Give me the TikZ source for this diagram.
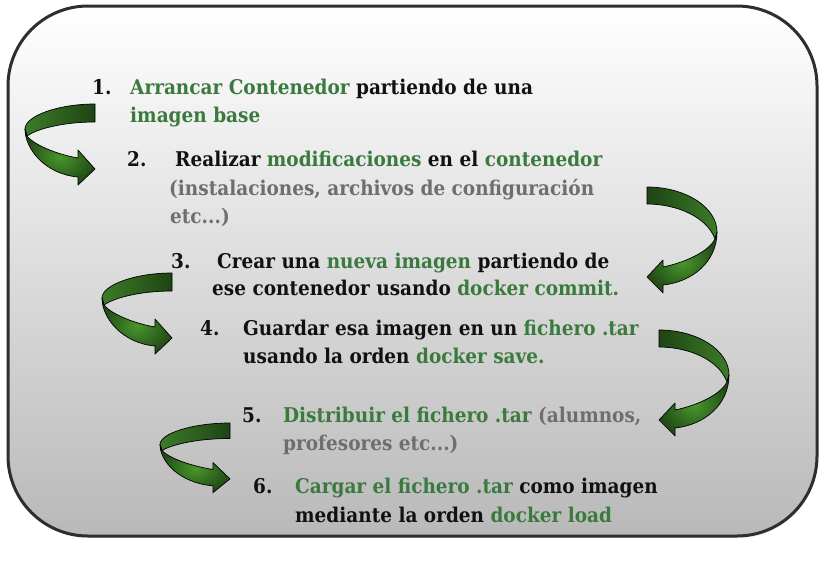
\documentclass[tikz,border=0pt]{standalone}
\usepackage{fontspec}
\setmainfont{DejaVu Serif}[FakeStretch=0.91]
\definecolor{tgreen}{HTML}{3A7A3E}
\definecolor{tgray}{HTML}{6E6E6E}
\definecolor{tblack}{HTML}{111111}
\definecolor{gdark}{HTML}{1E4414}
\definecolor{gmid}{HTML}{3C7C28}
\definecolor{glight}{HTML}{48962B}
\definecolor{boxline}{HTML}{2E2E2E}
\newcommand\grn[1]{\textcolor{tgreen}{#1}}
\newcommand\gry[1]{\textcolor{tgray}{#1}}
\tikzset{
  txt/.style={font=\bfseries\fontsize{20.3}{24}\selectfont, inner sep=0pt, text=tblack, anchor=base west},
  backface/.style={draw=black, line width=0.7pt, line join=round},
  frontface/.style={draw=black, line width=0.7pt, line join=round, inner color=glight, outer color=gdark!85!gmid},
}
\newcommand\leftcurl{%
  \path[backface, left color=gmid, right color=gdark]
    (0,0) .. controls (-37,0) and (-70,12) .. (-70,25) -- (-68,32)
    .. controls (-60,26) and (-35,18) .. (0,18) -- cycle;
  \path[frontface]
    (-70,25) .. controls (-70,45) and (-50,70) .. (-17,73) -- (-17,81) -- (0,65)
    -- (-17,46) -- (-17,54) .. controls (-40,50) and (-62,40) .. (-68,32) -- cycle;
}
\newcommand\rightcurl{%
  \path[backface, left color=gdark, right color=gmid]
    (0,0) .. controls (38,0) and (70,20) .. (70,45) -- (68,52)
    .. controls (60,30) and (30,17) .. (0,17) -- cycle;
  \path[frontface]
    (70,45) .. controls (70,75) and (45,95) .. (16,98) -- (16,106) -- (0,90)
    -- (16,73) -- (16,80) .. controls (40,75) and (62,64) .. (68,52) -- cycle;
}
\begin{document}
\begin{tikzpicture}[x=1pt, y=-1pt]
\useasboundingbox (0,0) rectangle (837,560);
% frame
\path[fill=black, opacity=0.08, rounded corners=80pt] (9,8) rectangle (818,538);
\path[draw=boxline, line width=3pt, rounded corners=80pt, top color=white, bottom color=gray!55]
  (8,6) rectangle (817,536);
% curled arrows
\begin{scope}[shift={(95,104)}]\leftcurl\end{scope}
\begin{scope}[shift={(647,187)}]\rightcurl\end{scope}
\begin{scope}[shift={(172,273)}]\leftcurl\end{scope}
\begin{scope}[shift={(659,330)}]\rightcurl\end{scope}
\begin{scope}[shift={(230,423)}, yscale=0.86]\leftcurl\end{scope}
% numbers
\node[txt] (n1) at (92,94) {1.};
\node[txt] (n2) at (127,166) {2.};
\node[txt] (n3) at (171,268) {3.};
\node[txt] (n4) at (200,335) {4.};
\node[txt] (n5) at (242,422) {5.};
\node[txt] (n6) at (253,493) {6.};
% texts
\node[txt] (l1a) at (130,94) {\grn{Arrancar Contenedor} partiendo de una};
\node[txt] (l1b) at (130,122) {\grn{imagen base}};
\node[txt] (l2a) at (175,166) {Realizar \grn{modificaciones} en el \grn{contenedor}};
\node[txt] (l2b) at (169,195) {\gry{(instalaciones, archivos de configuración}};
\node[txt] (l2c) at (170,223) {\gry{etc...)}};
\node[txt] (l3a) at (217,268) {Crear una \grn{nueva imagen} partiendo de};
\node[txt] (l3b) at (212,295) {ese contenedor usando \grn{docker commit.}};
\node[txt] (l4a) at (243,335) {Guardar esa imagen en un \grn{fichero .tar}};
\node[txt] (l4b) at (243,363) {usando la orden \grn{docker save.}};
\node[txt] (l5a) at (283,422) {\grn{Distribuir el fichero .tar} \gry{(alumnos,}};
\node[txt] (l5b) at (283,450) {\gry{profesores etc...)}};
\node[txt] (l6a) at (295,493) {\grn{Cargar el fichero .tar} como imagen};
\node[txt] (l6b) at (295,522) {mediante la orden \grn{docker load}};
\end{tikzpicture}
\end{document}
